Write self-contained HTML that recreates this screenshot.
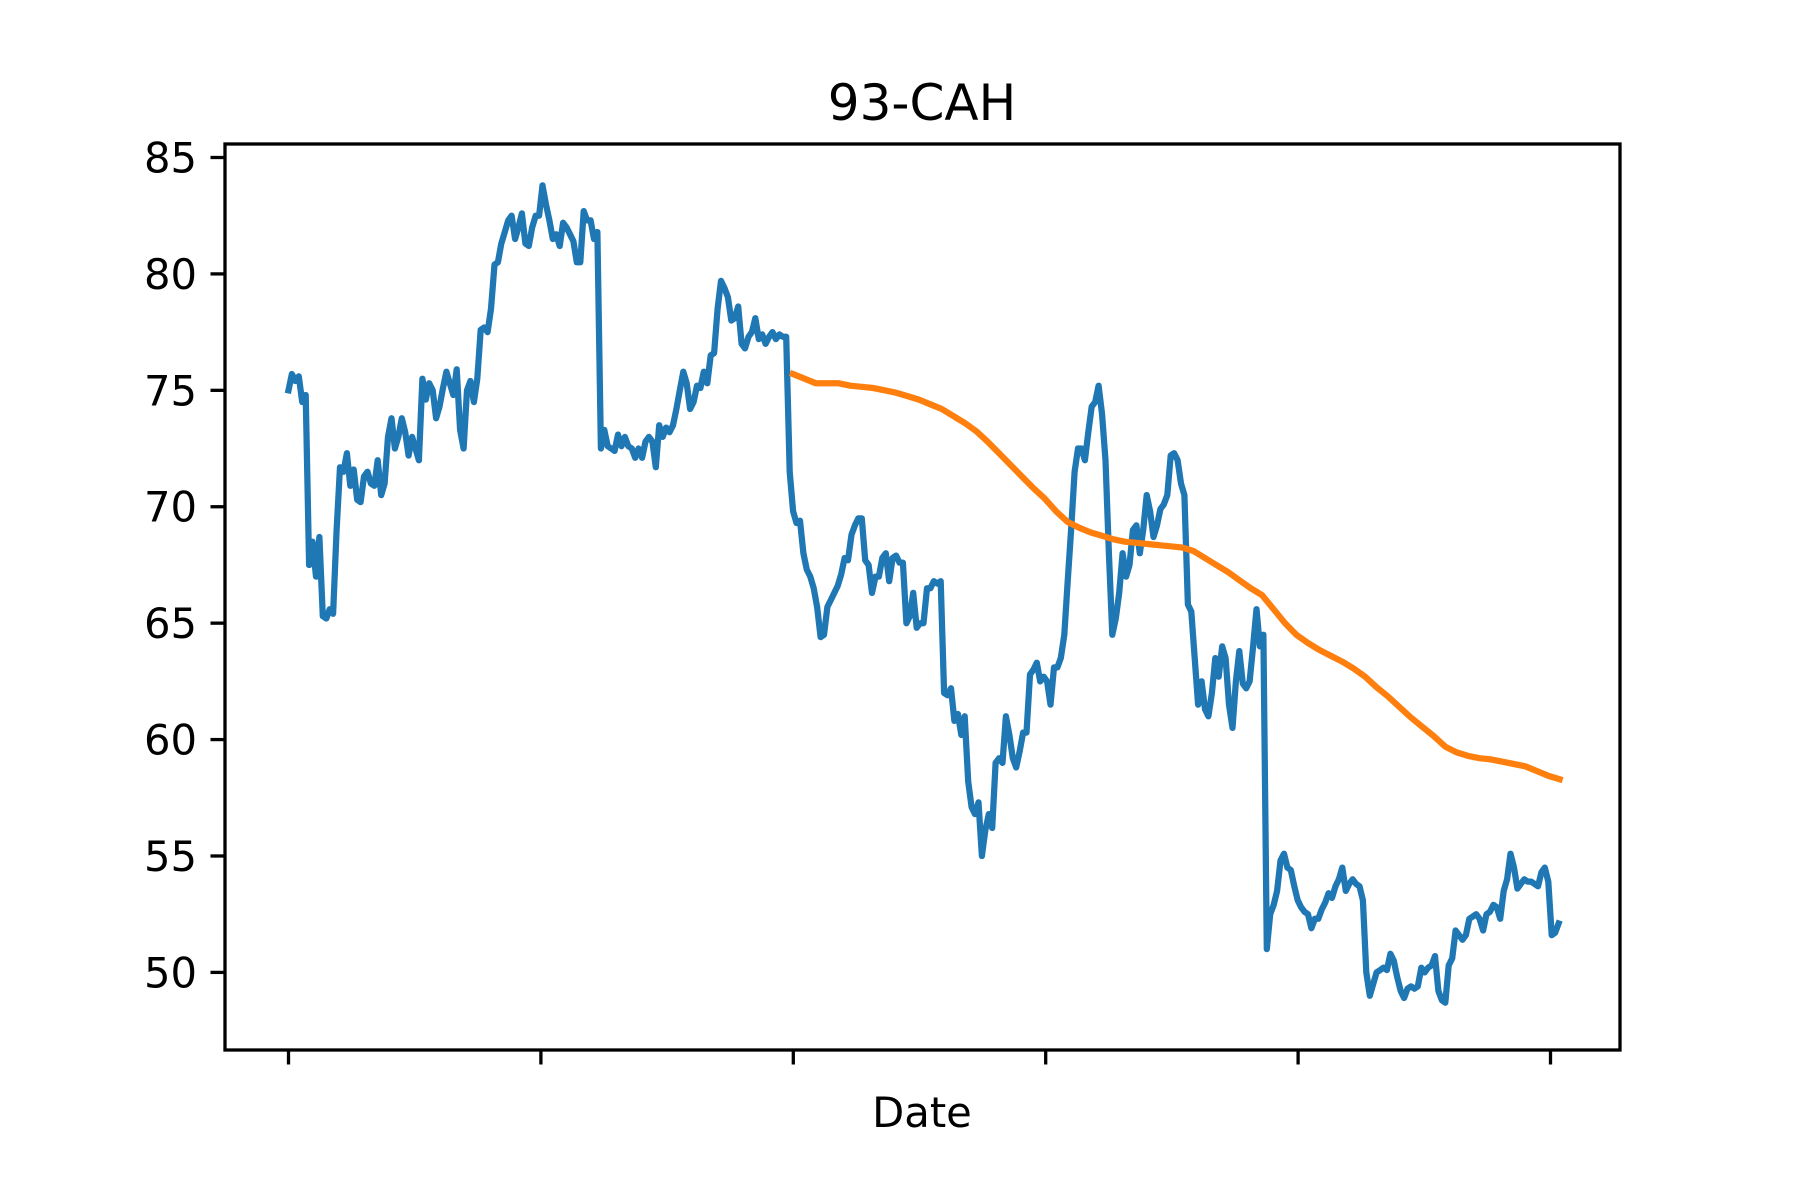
<!DOCTYPE html>
<html><head><meta charset="utf-8"><style>
html,body{margin:0;padding:0;background:#fff;}
svg{display:block;font-family:"DejaVu Sans","Liberation Sans",sans-serif;}
</style></head><body>
<svg id="chart" width="1800" height="1200" viewBox="0 0 1800 1200" xmlns="http://www.w3.org/2000/svg">
<rect x="0" y="0" width="1800" height="1200" fill="#fff"/>
<text x="922" y="120" font-size="50" text-anchor="middle">93-CAH</text>
<g id="plot"></g>
<g id="yticks"></g>
<g id="xticks"></g>
<rect x="225" y="144" width="1395" height="906" fill="none" stroke="#000" stroke-width="3.3"/>
<text x="922" y="1127" font-size="41.7" text-anchor="middle">Date</text>
</svg>
<script>
const priceValues = [75,75.7,75.4,75.6,74.5,74.8,67.5,68.5,67,68.7,65.3,65.2,65.6,65.4,69,71.7,71.5,72.3,70.9,71.6,70.3,70.2,71.3,71.5,71,70.9,72,70.5,71,73,73.8,72.5,73,73.8,73.2,72.2,73,72.5,72,75.5,74.6,75.3,75,73.8,74.3,75.1,75.8,75.3,74.8,75.9,73.3,72.5,75,75.4,74.5,75.5,77.6,77.7,77.5,78.5,80.4,80.5,81.3,81.8,82.3,82.5,81.5,82,82.6,81.3,81.2,82,82.5,82.5,83.8,83,82.3,81.5,81.7,81.2,82.2,82,81.7,81.4,80.5,80.5,82.7,82.3,82.3,81.5,81.8,72.5,73.3,72.6,72.5,72.4,73.1,72.6,73,72.6,72.5,72.1,72.5,72.1,72.8,73,72.8,71.7,73.5,73,73.4,73.2,73.5,74.2,75,75.8,75.3,74.2,74.5,75.2,75.1,75.8,75.3,76.5,76.6,78.5,79.7,79.4,79,78,78.1,78.6,77,76.8,77.3,77.5,78.1,77.2,77.4,77,77.3,77.5,77.2,77.4,77.3,77.3,71.5,69.8,69.3,69.4,68,67.3,67,66.5,65.7,64.4,64.5,65.7,66,66.3,66.6,67.1,67.8,67.7,68.8,69.2,69.5,69.5,67.7,67.5,66.3,67,67,67.8,68,66.8,67.8,67.9,67.6,67.6,65,65.3,66.3,64.8,65,65,66.5,66.5,66.8,66.7,66.8,62,61.9,62.2,60.8,61.1,60.2,61,58.2,57.1,56.8,57.3,55,56.1,56.8,56.2,59,59.2,59,61,60.2,59.2,58.8,59.5,60.3,60.3,62.8,63,63.3,62.5,62.7,62.5,61.5,63.1,63.1,63.5,64.5,66.8,69,71.5,72.5,72.5,72,73.2,74.3,74.5,75.2,74,72,68,64.5,65.2,66.3,68,67,67.5,69,69.2,68,69,70.5,69.8,68.7,69.2,69.9,70.1,70.5,72.2,72.3,72,71,70.5,65.8,65.5,63.5,61.5,62.5,61.3,61,62,63.5,62.7,64,63.5,61.5,60.5,62.5,63.8,62.4,62.2,62.5,64,65.6,64,64.5,51,52.5,52.9,53.5,54.8,55.1,54.5,54.4,53.7,53.1,52.8,52.6,52.5,51.9,52.3,52.3,52.7,53,53.4,53.2,53.7,54,54.5,53.5,53.8,54,53.8,53.7,53.1,50,49,49.5,50,50.1,50.2,50.1,50.8,50.5,49.8,49.2,48.9,49.3,49.4,49.3,49.4,50.2,50,50.2,50.3,50.7,49.2,48.8,48.7,50.3,50.6,51.8,51.6,51.4,51.6,52.3,52.4,52.5,52.3,51.8,52.5,52.6,52.9,52.8,52.3,53.5,54,55.1,54.5,53.6,53.8,54,53.9,53.9,53.8,53.7,54.3,54.5,53.9,51.6,51.7,52.1];
const maValues = [75.7,75.5,75.3,75.3,75.3,75.2,75.15,75.1,75,74.9,74.75,74.6,74.4,74.2,73.9,73.6,73.25,72.8,72.3,71.8,71.3,70.8,70.35,69.8,69.35,69.1,68.9,68.75,68.6,68.5,68.45,68.4,68.35,68.3,68.25,68.1,67.8,67.5,67.2,66.85,66.5,66.2,65.6,65,64.5,64.15,63.85,63.6,63.35,63.05,62.7,62.25,61.85,61.4,60.95,60.55,60.15,59.7,59.45,59.3,59.2,59.15,59.05,58.95,58.85,58.65,58.45,58.3];
const yTickLabels = [50,55,60,65,70,75,80,85];
const xTickPositions = [0,1,2,3,4,5];
const priceSpan = [0, 5.032];
const maSpan = [1.999, 5.036];

const NS='http://www.w3.org/2000/svg';
const xs = u => 288.5 + 252.4*u;
const ys = v => 157.5 + (85 - v) * (814.9/35);
function mk(tag, attrs, parent){const e=document.createElementNS(NS,tag);for(const k in attrs)e.setAttribute(k,attrs[k]);parent.appendChild(e);return e;}

const yt=document.getElementById('yticks');
yTickLabels.forEach(v=>{
  const t=mk('line',{x1:210.5,x2:225,y1:ys(v),y2:ys(v),stroke:'#000','stroke-width':3.3},yt);
  
  
  const l=mk('text',{x:197,y:ys(v)+15,'font-size':41.7,'text-anchor':'end'},yt);
  l.textContent=String(v);
  
  
});
const xt=document.getElementById('xticks');
xTickPositions.forEach(u=>{
  const t=mk('line',{x1:xs(u),x2:xs(u),y1:1050,y2:1064.5,stroke:'#000','stroke-width':3.3},xt);
  
  
});
const plot=document.getElementById('plot');
function series(vals, span){
  const n=vals.length;
  return vals.map((v,i)=>xs(span[0]+(span[1]-span[0])*i/(n-1)).toFixed(1)+','+ys(v).toFixed(1)).join(' ');
}
const p1=mk('polyline',{points:series(priceValues,priceSpan),fill:'none',stroke:'#1f77b4','stroke-width':6.25,'stroke-linejoin':'round','stroke-linecap':'square'},plot);


const p2=mk('polyline',{points:series(maValues,maSpan),fill:'none',stroke:'#ff7f0e','stroke-width':6.25,'stroke-linejoin':'round','stroke-linecap':'square'},plot);


</script>
</body></html>
